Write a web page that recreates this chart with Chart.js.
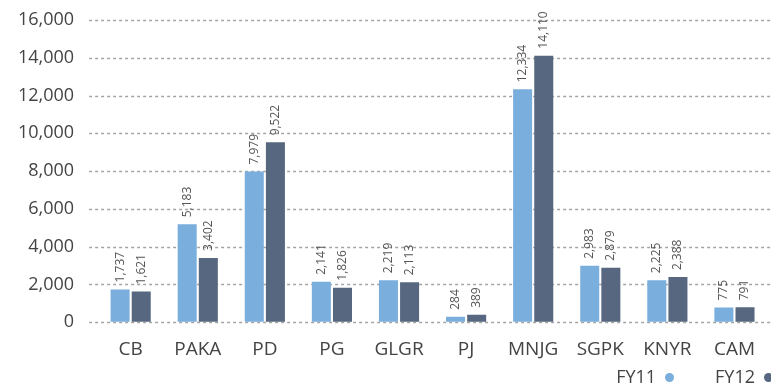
<!DOCTYPE html>
<html>
<head>
<meta charset="utf-8">
<script src="https://cdn.jsdelivr.net/npm/chart.js@4/dist/chart.umd.min.js"></script>
<style>
  html, body { margin: 0; padding: 0; background: #fff; overflow: hidden; }
  #wrap { position: relative; width: 771px; height: 386px; }
  #legend {
    position: absolute; right: -2px; top: 364px;
    font: 18px "Open Sans", "Noto Sans", sans-serif; color: #444;
    display: flex; gap: 41px; line-height: 24px;
  }
  #legend .item { display: flex; align-items: center; }
  #legend .dot { width: 9px; height: 9px; border-radius: 50%; margin-left: 9px; margin-top: 3px; }
</style>
</head>
<body>
<div id="wrap">
  <canvas id="barChart"></canvas>
  <div id="legend"></div>
</div>
<script>
const categories = ['CB', 'PAKA', 'PD', 'PG', 'GLGR', 'PJ', 'MNJG', 'SGPK', 'KNYR', 'CAM'];
const fy11 = [1737, 5183, 7979, 2141, 2219, 284, 12334, 2983, 2225, 775];
const fy12 = [1621, 3402, 9522, 1826, 2113, 389, 14110, 2879, 2388, 791];
const yTicks = [0, 2000, 4000, 6000, 8000, 10000, 12000, 14000, 16000];

const FONT = '"Open Sans", "Noto Sans", sans-serif';
const TICK_LEN = 8;

// dotted horizontal guides, running a little past the left edge of the plot
const dottedGrid = {
  id: 'dottedGrid',
  beforeDatasetsDraw(chart) {
    const { ctx, chartArea, scales: { y } } = chart;
    ctx.save();
    ctx.strokeStyle = '#a4a4a4';
    ctx.lineWidth = 1.5;
    ctx.setLineDash([3, 3]);
    y.ticks.forEach(t => {
      const py = Math.round(y.getPixelForValue(t.value)) + 0.5;
      ctx.beginPath();
      ctx.moveTo(chartArea.left - TICK_LEN, py);
      ctx.lineTo(chartArea.right + 3, py);
      ctx.stroke();
    });
    ctx.restore();
  }
};

// value labels written vertically above each bar
const barValues = {
  id: 'barValues',
  afterDatasetsDraw(chart) {
    const ctx = chart.ctx;
    ctx.save();
    ctx.font = '12px ' + FONT;
    ctx.fillStyle = '#555';
    ctx.textAlign = 'left';
    ctx.textBaseline = 'middle';
    chart.data.datasets.forEach((ds, i) => {
      chart.getDatasetMeta(i).data.forEach((bar, j) => {
        ctx.save();
        ctx.translate(bar.x, bar.y - 7);
        ctx.rotate(-Math.PI / 2);
        ctx.fillText(ds.data[j].toLocaleString('en-US'), 0, 0);
        ctx.restore();
      });
    });
    ctx.restore();
  }
};

const chart = new Chart(document.getElementById('barChart').getContext('2d'), {
  type: 'bar',
  data: {
    labels: categories,
    datasets: [
      { label: 'FY11', data: fy11, backgroundColor: '#7aaedc' },
      { label: 'FY12', data: fy12, backgroundColor: '#56677f' }
    ]
  },
  options: {
    responsive: true,
    maintainAspectRatio: false,
    animation: false,
    categoryPercentage: 0.63,
    barPercentage: 0.9,
    layout: { padding: { left: 3, right: 3, top: 0, bottom: 17 } },
    scales: {
      x: {
        grid: { display: false },
        border: { display: false },
        ticks: { color: '#444', font: { family: FONT, size: 19 }, padding: 8 }
      },
      y: {
        min: 0,
        max: 16000,
        afterBuildTicks: axis => { axis.ticks = yTicks.map(v => ({ value: v })); },
        afterFit: axis => { axis.paddingTop = 20; },
        border: { display: false },
        // lines themselves come from dottedGrid; keep the tick space
        grid: { color: 'transparent', tickLength: TICK_LEN },
        ticks: {
          color: '#444',
          font: { family: FONT, size: 18 },
          padding: 15,
          callback: v => v.toLocaleString('en-US')
        }
      }
    },
    plugins: {
      legend: { display: false },
      tooltip: { enabled: false }
    }
  },
  plugins: [dottedGrid, barValues]
});

// legend: name followed by a dot in the series colour
document.getElementById('legend').innerHTML = chart.data.datasets.map(ds => `
  <div class="item"><span>${ds.label}</span><span class="dot" style="background:${ds.backgroundColor}"></span></div>
`).join('');
</script>
</body>
</html>
